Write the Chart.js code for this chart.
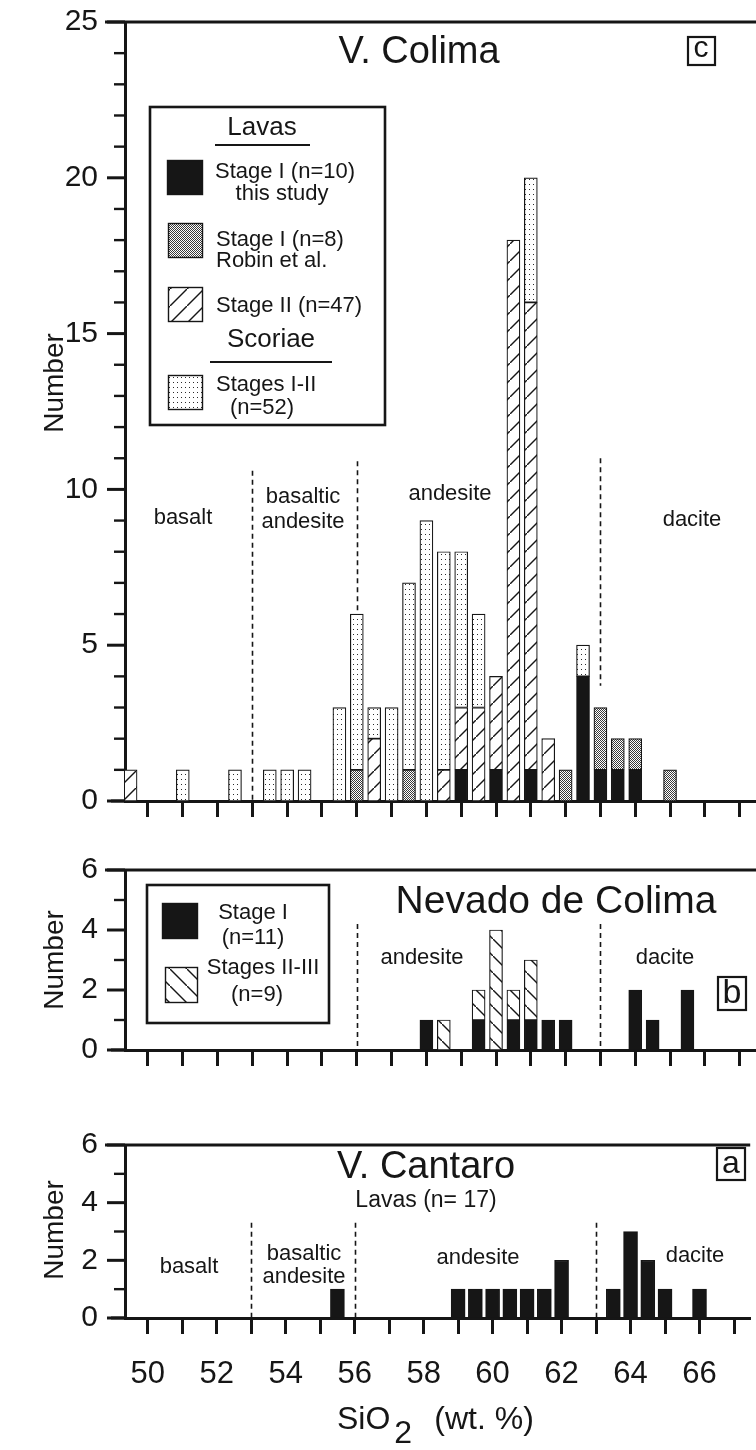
<!DOCTYPE html>
<html><head><meta charset="utf-8">
<script src="https://cdn.jsdelivr.net/npm/chart.js@4.4.0/dist/chart.umd.min.js"></script>
<style>
html,body{margin:0;padding:0;background:#fff;width:756px;height:1450px;overflow:hidden;position:relative}
.wrap{position:absolute;left:0;width:756px}
canvas{display:block}
</style></head><body>
<div class="wrap" id="w1" style="top:-28px;height:879px"><canvas id="c1"></canvas></div>
<div class="wrap" id="w2" style="top:820px;height:280px"><canvas id="c2"></canvas></div>
<div class="wrap" id="w3" style="top:1095px;height:355px"><canvas id="c3"></canvas></div>
<script>
// ---------- DATA (SiO2 bins of 0.5 wt.%) ----------
// Panel c: V. Colima
const colimaBins     = [49.5,51,52.5,53.5,54,54.5,55.5,56,56.5,57,57.5,58,58.5,59,59.5,60,60.5,61,61.5,62,62.5,63,63.5,64,65];
const colimaStageI   = [0,   0, 0,   0,   0, 0,   0,   0, 0,   0, 0,   0, 0,   1, 0,   1, 0,   1, 0,   0, 4,   1, 1,   1, 0];
const colimaRobin    = [0,   0, 0,   0,   0, 0,   0,   1, 0,   0, 1,   0, 0,   0, 0,   0, 0,   0, 0,   1, 0,   2, 1,   1, 1];
const colimaStageII  = [1,   0, 0,   0,   0, 0,   0,   0, 2,   0, 0,   0, 1,   2, 3,   3, 18,  15,2,   0, 0,   0, 0,   0, 0];
const colimaScoriae  = [0,   1, 1,   1,   1, 1,   3,   5, 1,   3, 6,   9, 7,   5, 3,   0, 0,   4, 0,   0, 1,   0, 0,   0, 0];
// Panel b: Nevado de Colima
const nevadoBins     = [58,58.5,59.5,60,60.5,61,61.5,62,64,64.5,65.5];
const nevadoStageI   = [1, 0,   1,   0, 1,   1, 1,   1, 2, 1,   2];
const nevadoStageII  = [0, 1,   1,   4, 1,   2, 0,   0, 0, 0,   0];
// Panel a: V. Cantaro
const cantaroBins    = [55.5,59,59.5,60,60.5,61,61.5,62,63.5,64,64.5,65,66];
const cantaroLavas   = [1,   1, 1,   1, 1,   1, 1,   2, 1,   3, 2,   1, 1];
// Rock-type boundaries (wt.% SiO2)
const boundaryX      = [53,56,63];
const colimaBoundTop = [10.6,10.9,11];
const colimaBoundLow = [0,0,3.7];
const nevadoBoundX   = [56,63];
const nevadoBoundTop = [4.2,4.2];
const cantaroBoundTop= [3.3,3.3,3.3];
// Axis ticks
const xTickValues    = [50,51,52,53,54,55,56,57,58,59,60,61,62,63,64,65,66,67];
const xLabelValues   = [50,52,54,56,58,60,62,64,66];
const colimaYLabels  = [0,5,10,15,20,25];
const smallYLabels   = [0,2,4,6];

// ---------- STYLE ----------
const X_MIN = 49.34, X_MAX = 67.47, LEFT = 125, PAD = 50;
const INK = '#161616';
const FONT = '"Liberation Sans", Arial, Helvetica, sans-serif';

function pattern(kind){
  const c=document.createElement('canvas'); const g=c.getContext('2d');
  if(kind==='fwd'||kind==='back'){
    const s=17; c.width=c.height=s;
    g.fillStyle='#fff'; g.fillRect(0,0,s,s);
    g.strokeStyle=INK; g.lineWidth=1.4; g.beginPath();
    if(kind==='fwd'){ g.moveTo(-2,s+2); g.lineTo(s+2,-2); }
    else { g.moveTo(-2,-2); g.lineTo(s+2,s+2); }
    g.stroke();
  } else if(kind==='sparse'){
    c.width=4; c.height=5; g.fillStyle='#fff'; g.fillRect(0,0,4,5);
    g.fillStyle='#2a2a2a'; g.fillRect(1,2,1,1);
  } else if(kind==='dense'){
    c.width=2; c.height=2; g.fillStyle='#fff'; g.fillRect(0,0,2,2);
    g.fillStyle='#3a3a3a'; g.fillRect(0,0,1,1); g.fillRect(1,1,1,1);
  }
  return g.createPattern(c,'repeat');
}
const P = {fwd:pattern('fwd'), back:pattern('back'), sparse:pattern('sparse'), dense:pattern('dense')};

function pts(bins, vals){ return bins.map((x,i)=>({x:x,y:vals[i]})).filter(p=>p.y>0); }
function ds(label, bins, vals, fill, thick){
  return {label, data:pts(bins,vals), backgroundColor:fill, borderColor:INK, borderWidth:1.2,
          borderSkipped:false, barThickness:thick||13, grouped:false};
}

// ---------- decoration plugin ----------
const deco = {
  id:'deco',
  beforeDatasetsDraw(chart){
    const o=chart.options.plugins.deco, ctx=chart.ctx, xs=chart.scales.x, ys=chart.scales.y;
    ctx.save(); ctx.strokeStyle=INK; ctx.lineWidth=1.6; ctx.setLineDash([5,4]);
    o.bx.forEach((bx,i)=>{
      const x=Math.round(xs.getPixelForValue(bx))+0.5;
      ctx.beginPath(); ctx.moveTo(x, ys.getPixelForValue(o.btop[i])); ctx.lineTo(x, ys.getPixelForValue(o.blow[i])); ctx.stroke();
    });
    ctx.restore();
  },
  afterDraw(chart){
    const o=chart.options.plugins.deco, ctx=chart.ctx, ys=chart.scales.y, a=chart.chartArea;
    ctx.save();
    ctx.strokeStyle=INK; ctx.lineCap='butt';
    for(let v=0; v<=o.ymax; v++){
      const y=ys.getPixelForValue(v); const major=(v%o.major===0);
      ctx.lineWidth=major?3:2.4; ctx.beginPath(); ctx.moveTo(a.left-(major?18:11), y); ctx.lineTo(a.left, y); ctx.stroke();
    }
    ctx.lineWidth=3;
    ctx.beginPath(); ctx.moveTo(a.left-20, a.top); ctx.lineTo(a.right, a.top); ctx.stroke();
    ctx.beginPath(); ctx.moveTo(a.left-14, a.bottom); ctx.lineTo(a.left, a.bottom); ctx.stroke();
    // texts in page coordinates
    ctx.translate(0, -o.offY);
    ctx.fillStyle=INK; ctx.textBaseline='middle';
    (o.texts||[]).forEach(t=>{
      ctx.font=(t.w||'normal')+' '+t.s+'px '+FONT; ctx.textAlign=t.a||'center';
      if(t.rot){ ctx.save(); ctx.translate(t.x,t.y); ctx.rotate(-Math.PI/2); ctx.fillText(t.t,0,0); ctx.restore(); }
      else ctx.fillText(t.t, t.x, t.y);
    });
    (o.rects||[]).forEach(r=>{ ctx.lineWidth=r.lw; ctx.strokeStyle=INK; ctx.strokeRect(r.x,r.y,r.w,r.h); });
    (o.lines||[]).forEach(l=>{ ctx.lineWidth=l.lw; ctx.beginPath(); ctx.moveTo(l.x1,l.y); ctx.lineTo(l.x2,l.y); ctx.stroke(); });
    (o.swatches||[]).forEach(s=>{ ctx.fillStyle=s.fill; ctx.fillRect(s.x,s.y,s.w,s.h); ctx.lineWidth=1.4; ctx.strokeStyle=INK; ctx.strokeRect(s.x+0.5,s.y+0.5,s.w-1,s.h-1); });
    if(o.xtitle){
      ctx.fillStyle=INK; ctx.textAlign='left'; ctx.font='32px '+FONT;
      const x0=o.xtitle.x, y0=o.xtitle.y;
      ctx.fillText('SiO', x0, y0); const w=ctx.measureText('SiO').width;
      ctx.fillText('2', x0+w+4, y0+14);
      ctx.fillText('(wt. %)', x0+w+44, y0);
    }
    ctx.restore();
  }
};

function xAxis(h, labels){
  return {type:'linear', min:X_MIN, max:X_MAX, stacked:true, offset:false,
    afterBuildTicks:s=>{ s.ticks=xTickValues.map(v=>({value:v})); },
    ticks:{display:labels, autoSkip:false, maxRotation:0, padding:22, color:INK,
      font:{family:FONT,size:31}, callback:v=>xLabelValues.includes(v)?String(v):''},
    grid:{drawOnChartArea:false, drawTicks:true, tickLength:16, tickWidth:3, tickColor:INK, offset:false},
    border:{display:true, width:3, color:INK},
    afterFit:s=>{ s.height=h; }
  };
}
function yAxis(max, labels){
  return {type:'linear', min:0, max:max, stacked:true,
    afterBuildTicks:s=>{ s.ticks=labels.map(v=>({value:v})); },
    ticks:{padding:27, color:INK, font:{family:FONT,size:30}},
    grid:{display:false, drawTicks:false},
    border:{display:true, width:3, color:INK},
    afterFit:s=>{ s.width=LEFT; }
  };
}
function make(id, datasets, xh, ymax, ylabels, deco_){
  return new Chart(document.getElementById(id), {
    type:'bar', data:{datasets},
    options:{responsive:true, maintainAspectRatio:false, animation:false,
      layout:{padding:{top:PAD,left:0,right:0,bottom:0}},
      scales:{x:xAxis(xh, deco_.xlabels), y:yAxis(ymax, ylabels)},
      plugins:{legend:{display:false}, tooltip:{enabled:false}, deco:deco_}
    },
    plugins:[deco]
  });
}

// ---------- Panel c ----------
make('c1', [
  ds('Stage I (n=10) this study', colimaBins, colimaStageI, INK),
  ds('Stage I (n=8) Robin et al.', colimaBins, colimaRobin, P.dense),
  ds('Stage II (n=47)', colimaBins, colimaStageII, P.fwd),
  ds('Scoriae Stages I-II (n=52)', colimaBins, colimaScoriae, P.sparse)
], 50, 25, colimaYLabels, {
  offY:-28, ymax:25, major:5, xlabels:false,
  bx:boundaryX, btop:colimaBoundTop, blow:colimaBoundLow,
  texts:[
    {t:'V. Colima', x:419, y:53, s:38},
    {t:'c', x:701, y:49, s:30},
    {t:'Number', x:55, y:383, s:28, rot:true},
    {t:'basalt', x:183, y:518, s:22},
    {t:'basaltic', x:303, y:497, s:22},
    {t:'andesite', x:303, y:522, s:22},
    {t:'andesite', x:450, y:494, s:22},
    {t:'dacite', x:692, y:520, s:22},
    {t:'Lavas', x:262, y:128, s:26},
    {t:'Stage I (n=10)', x:215, y:172, s:22, a:'left'},
    {t:'this study', x:282, y:194, s:22},
    {t:'Stage I (n=8)', x:216, y:240, s:22, a:'left'},
    {t:'Robin et al.', x:216, y:261, s:22, a:'left'},
    {t:'Stage II (n=47)', x:216, y:306, s:22, a:'left'},
    {t:'Scoriae', x:271, y:340, s:26},
    {t:'Stages I-II', x:216, y:385, s:22, a:'left'},
    {t:'(n=52)', x:262, y:408, s:22}
  ],
  rects:[{x:688,y:37,w:27,h:28,lw:2.2},{x:150,y:107,w:235,h:318,lw:2.6}],
  lines:[{x1:215,x2:310,y:145,lw:2},{x1:210,x2:332,y:362,lw:2}],
  swatches:[{x:167,y:160,w:36,h:35,fill:INK},{x:168,y:223,w:35,h:35,fill:P.dense},
            {x:168,y:287,w:35,h:35,fill:P.fwd},{x:168,y:375,w:35,h:35,fill:P.sparse}]
});

// ---------- Panel b ----------
make('c2', [
  ds('Stage I (n=11)', nevadoBins, nevadoStageI, INK),
  ds('Stages II-III (n=9)', nevadoBins, nevadoStageII, P.back)
], 50, 6, smallYLabels, {
  offY:820, ymax:6, major:2, xlabels:false,
  bx:nevadoBoundX, btop:nevadoBoundTop, blow:[0,0],
  texts:[
    {t:'Nevado de Colima', x:556, y:902, s:39},
    {t:'Number', x:55, y:960, s:28, rot:true},
    {t:'andesite', x:422, y:958, s:22},
    {t:'dacite', x:665, y:958, s:22},
    {t:'b', x:732, y:994, s:34},
    {t:'Stage I', x:253, y:913, s:22},
    {t:'(n=11)', x:253, y:938, s:22},
    {t:'Stages II-III', x:263, y:968, s:22},
    {t:'(n=9)', x:257, y:995, s:22}
  ],
  rects:[{x:718,y:977,w:28,h:33,lw:2.2},{x:147,y:885,w:182,h:138,lw:2.6}],
  lines:[],
  swatches:[{x:162,y:903,w:36,h:36,fill:INK},{x:165,y:967,w:33,h:36,fill:P.back}]
});

// ---------- Panel a ----------
make('c3', [
  ds('Lavas (n= 17)', cantaroBins, cantaroLavas, INK, 14)
], 132, 6, smallYLabels, {
  offY:1095, ymax:6, major:2, xlabels:true,
  bx:boundaryX, btop:cantaroBoundTop, blow:[0,0,0],
  texts:[
    {t:'V. Cantaro', x:426, y:1168, s:38},
    {t:'Lavas (n= 17)', x:426, y:1201, s:23},
    {t:'a', x:731, y:1164, s:32},
    {t:'Number', x:55, y:1230, s:28, rot:true},
    {t:'basalt', x:189, y:1267, s:22},
    {t:'basaltic', x:304, y:1254, s:22},
    {t:'andesite', x:304, y:1277, s:22},
    {t:'andesite', x:478, y:1258, s:22},
    {t:'dacite', x:695, y:1256, s:22}
  ],
  rects:[{x:717,y:1148,w:28,h:32,lw:2.2}],
  lines:[],
  swatches:[],
  xtitle:{x:337, y:1420}
});
</script>
</body></html>
